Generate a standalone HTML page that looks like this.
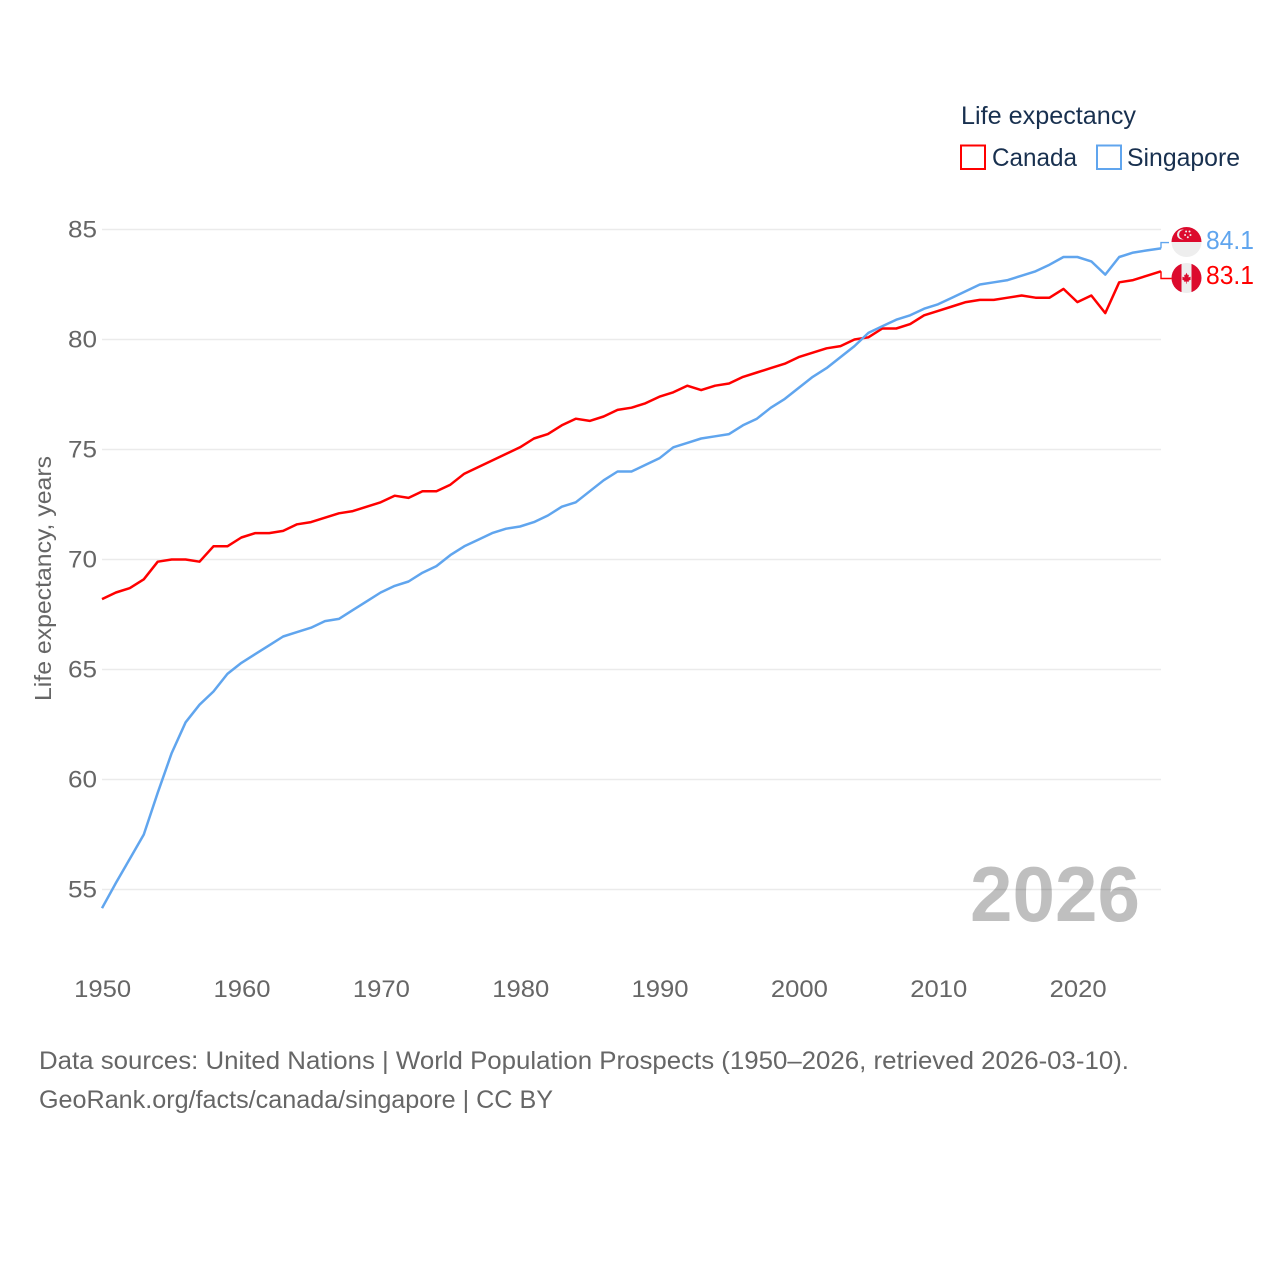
<!DOCTYPE html>
<html lang="en">
<head>
<meta charset="utf-8">
<title>Life expectancy: Canada and Singapore</title>
<style>
html,body{margin:0;padding:0;background:#fff;width:1280px;height:1280px;overflow:hidden}
svg{display:block}
text{font-family:"Liberation Sans",sans-serif}
</style>
</head>
<body>
<svg id="chart" xmlns="http://www.w3.org/2000/svg" width="1280" height="1280" viewBox="0 0 1280 1280">
  <defs>
    <clipPath id="flag-clip"><circle cx="0" cy="0" r="15"></circle></clipPath>
  </defs>
  <g id="grid"></g>
  <g id="y-ticks"></g>
  <g id="x-ticks"></g>
  <text transform="translate(51,701) rotate(-90)" font-size="23" fill="#666" textLength="245" lengthAdjust="spacingAndGlyphs">Life expectancy, years</text>
  <text x="970" y="921" font-size="78" font-weight="700" fill="#000" fill-opacity="0.25" textLength="170" lengthAdjust="spacingAndGlyphs">2026</text>
  <g id="series"></g>
  <g id="flag-singapore">
    <g clip-path="url(#flag-clip)">
      <rect x="-15" y="-15" width="30" height="15" fill="#dc0a2d"></rect>
      <rect x="-15" y="0" width="30" height="15" fill="#eeeeee"></rect>
      <circle cx="-4.5" cy="-7.5" r="5" fill="#eee"></circle>
      <circle cx="-2.8" cy="-7.5" r="4.6" fill="#dc0a2d"></circle>
      <circle cx="-0.4" cy="-10.5" r="1" fill="#eee"></circle>
      <circle cx="3" cy="-10.5" r="1" fill="#eee"></circle>
      <circle cx="-1.4" cy="-7" r="1" fill="#eee"></circle>
      <circle cx="4" cy="-7" r="1" fill="#eee"></circle>
      <circle cx="1.3" cy="-4.8" r="1" fill="#eee"></circle>
    </g>
  </g>
  <g id="flag-canada">
    <g clip-path="url(#flag-clip)">
      <rect x="-15" y="-15" width="30" height="30" fill="#eeeeee"></rect>
      <rect x="-15" y="-15" width="10" height="30" fill="#dc0a2d"></rect>
      <rect x="5" y="-15" width="10" height="30" fill="#dc0a2d"></rect>
      <polygon transform="scale(0.8)" fill="#dc0a2d" points="0,-6.5 1.6,-3.5 3,-4.2 2.4,-0.8 5.5,-1.6 4.6,0.4 6,1.2 2.6,3.6 3,4.8 0.4,4.4 0.4,7 -0.4,7 -0.4,4.4 -3,4.8 -2.6,3.6 -6,1.2 -4.6,0.4 -5.5,-1.6 -2.4,-0.8 -3,-4.2 -1.6,-3.5"></polygon>
    </g>
  </g>
  <text x="961" y="124" font-size="25" fill="#18304f" textLength="175" lengthAdjust="spacingAndGlyphs">Life expectancy</text>
  <g>
    <rect x="961" y="145.500" width="24" height="23.500" fill="none" stroke="#ff0000" stroke-width="2"></rect>
    <text x="992" y="166" font-size="25" fill="#18304f" textLength="85" lengthAdjust="spacingAndGlyphs">Canada</text>
  </g>
  <g>
    <rect x="1097" y="145.500" width="24" height="23.500" fill="none" stroke="#60a5ee" stroke-width="2"></rect>
    <text x="1127" y="166" font-size="25" fill="#18304f" textLength="113" lengthAdjust="spacingAndGlyphs">Singapore</text>
  </g>
  <text x="39" y="1069" font-size="25" fill="#666" textLength="1090" lengthAdjust="spacingAndGlyphs">Data sources: United Nations | World Population Prospects (1950–2026, retrieved 2026-03-10).</text>
  <text x="39" y="1108" font-size="25" fill="#666" textLength="514" lengthAdjust="spacingAndGlyphs">GeoRank.org/facts/canada/singapore | CC BY</text>
</svg>
<script>
const startYear = 1950;
const canadaValues = [68.2,68.5,68.7,69.1,69.9,70.0,70.0,69.9,70.6,70.6,71.0,71.2,71.2,71.3,71.6,71.7,71.9,72.1,72.2,72.4,72.6,72.9,72.8,73.1,73.1,73.4,73.9,74.2,74.5,74.8,75.1,75.5,75.7,76.1,76.4,76.3,76.5,76.8,76.9,77.1,77.4,77.6,77.9,77.7,77.9,78.0,78.3,78.5,78.7,78.9,79.2,79.4,79.6,79.7,80.0,80.1,80.5,80.5,80.7,81.1,81.3,81.5,81.7,81.8,81.8,81.9,82.0,81.9,81.9,82.3,81.7,82.0,81.2,82.6,82.7,82.9,83.1];
const singaporeValues = [54.15,55.3,56.4,57.5,59.4,61.2,62.6,63.4,64.0,64.8,65.3,65.7,66.1,66.5,66.7,66.9,67.2,67.3,67.7,68.1,68.5,68.8,69.0,69.4,69.7,70.2,70.6,70.9,71.2,71.4,71.5,71.7,72.0,72.4,72.6,73.1,73.6,74.0,74.0,74.3,74.6,75.1,75.3,75.5,75.6,75.7,76.1,76.4,76.9,77.3,77.8,78.3,78.7,79.2,79.7,80.3,80.6,80.9,81.1,81.4,81.6,81.9,82.2,82.5,82.6,82.7,82.9,83.1,83.4,83.75,83.75,83.55,82.95,83.75,83.95,84.05,84.14];
const yTicks = [55,60,65,70,75,80,85];
const xTicks = [1950,1960,1970,1980,1990,2000,2010,2020];

const NS = 'http://www.w3.org/2000/svg';
const xScale = function (year) { return 102 + (year - 1950) * (1161 - 102) / 76; };
const yScale = function (v) { return 889.5 - (v - 55) * 22; };

function make(tag, parent, attrs, content) {
  const el = document.createElementNS(NS, tag);
  Object.keys(attrs).forEach(function (k) { el.setAttribute(k, attrs[k]); });
  if (content !== undefined) el.textContent = content;
  parent.appendChild(el);
  return el;
}

const grid = document.getElementById('grid');
const yAxis = document.getElementById('y-ticks');
const xAxis = document.getElementById('x-ticks');
const series = document.getElementById('series');

yTicks.forEach(function (t) {
  const line = make('line', grid, { x1: 102, x2: 1161, y1: yScale(t), y2: yScale(t), stroke: '#ebebeb', 'stroke-width': 1.5 });
  
  
  const label = make('text', yAxis, { x: 97, y: yScale(t) + 8, 'text-anchor': 'end', 'font-size': 24, fill: '#666', textLength: 29, lengthAdjust: 'spacingAndGlyphs' }, String(t));
  
  
});

xTicks.forEach(function (t) {
  const label = make('text', xAxis, { x: xScale(t) + 0.7, y: 997, 'text-anchor': 'middle', 'font-size': 24, fill: '#666', textLength: 57, lengthAdjust: 'spacingAndGlyphs' }, String(t));
  
  
});

function pathFrom(values) {
  return values.map(function (v, i) {
    return (i ? 'L' : 'M') + xScale(startYear + i).toFixed(2) + ' ' + yScale(v).toFixed(2);
  }).join(' ');
}

function drawSeries(values, colour, labelOffset, stubLength, textDrop, flagId, seriesName) {
  const last = values[values.length - 1];
  const endX = xScale(startYear + values.length - 1);
  const endY = yScale(last);
  const labelY = endY + labelOffset;

  const line = make('path', series, { d: pathFrom(values), fill: 'none', stroke: colour, 'stroke-width': 2.5, 'stroke-linejoin': 'round' });
  
  

  const connector = make('path', series, { d: 'M' + endX + ' ' + endY + ' V' + (labelY + 0.5) + ' H' + (endX + stubLength), fill: 'none', stroke: colour, 'stroke-width': 1.4 });
  
  

  const value = make('text', series, { x: 1206, y: labelY + textDrop, 'font-size': 26, fill: colour, textLength: 48, lengthAdjust: 'spacingAndGlyphs' }, last.toFixed(1));
  
  

  document.getElementById(flagId).setAttribute('transform', 'translate(1186.5,' + labelY + ')');
}

drawSeries(canadaValues, '#ff0000', 6.7, 11, 6, 'flag-canada', 'canada');
drawSeries(singaporeValues, '#60a5ee', -6.4, 8, 7, 'flag-singapore', 'singapore');
</script>
</body>
</html>
